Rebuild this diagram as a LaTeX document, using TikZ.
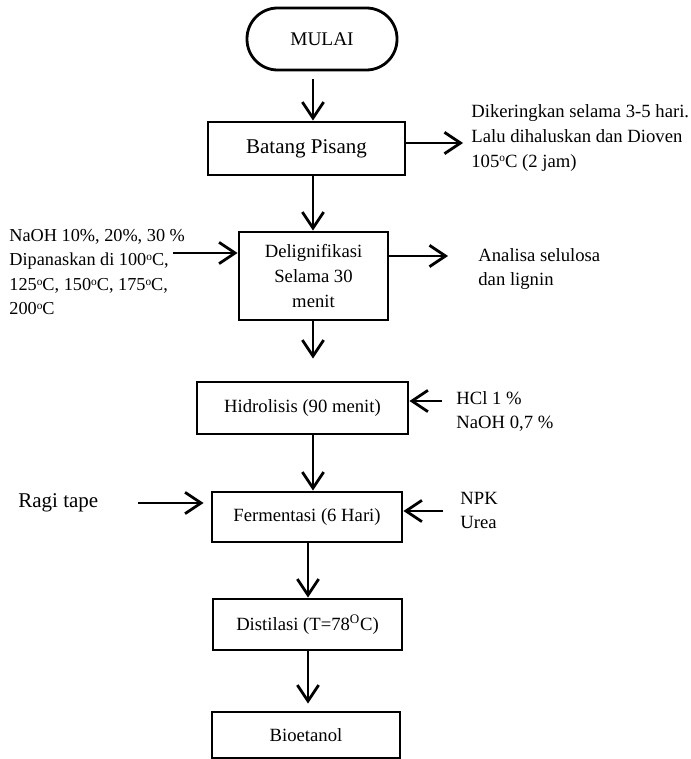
\documentclass[tikz,border=0pt]{standalone}
\usepackage{fontspec}
\setmainfont{Liberation Serif}
\usetikzlibrary{arrows.meta,calc}
\newcommand{\dc}{\raisebox{.6ex}{\fontsize{8.5}{9}\selectfont o}C}
\newcommand{\stepfont}{\fontsize{14}{18.4}\selectfont}
\newcommand{\bigfont}{\fontsize{15.75}{19}\selectfont}

\begin{document}
\begin{tikzpicture}[
      x=0.75pt, y=-0.75pt,
      line width=2.1pt,
      box/.style={draw, rectangle, align=center, inner sep=0pt, font=\stepfont},
      note/.style={align=left, anchor=west, inner sep=0pt, font=\stepfont},
      arr/.style={-{Straight Barb[length=12pt,width=16pt]}}
    ]
    \useasboundingbox (0,0) rectangle (690,759);

    % the down arrows run on these two lines
    \coordinate (upper) at (313,0);
    \coordinate (lower) at (308,0);

    % Main steps, top to bottom
    \node[box, rounded corners=23pt, minimum width=112.5pt, minimum height=46.5pt,
          font=\fontsize{14.5}{17}\selectfont] (mulai) at (322,39) {MULAI};
    \node[box, minimum width=147.75pt, minimum height=39.75pt, font=\bigfont] (batang) at (306.5,148.5) {Batang Pisang};
    \node[box, minimum width=111.75pt, minimum height=66pt] (delig) at (313.5,276) {Delignifikasi\\Selama 30\\menit};
    \node[box, minimum width=158.25pt, minimum height=39pt] (hidro) at (302.5,408) {Hidrolisis (90 menit)};
    \node[box, minimum width=142.5pt, minimum height=37.5pt] (ferm) at (307,517) {Fermentasi (6 Hari)};
    \node[box, minimum width=141.75pt, minimum height=38.25pt] (distil) at (307.5,624.5) {Distilasi (T=78\textsuperscript{O}C)};
    \node[box, minimum width=141pt, minimum height=34.5pt] (bio) at (306,735) {Bioetanol};

    % Side notes
    \node[note] (dry) at (470,138) {Dikeringkan selama 3-5 hari.\\Lalu dihaluskan dan Dioven\\105\dc{} (2 jam)};
    \node[note, font=\fontsize{13.7}{18.4}\selectfont] (naoh) at (8,272) {NaOH 10\%, 20\%, 30 \%\\Dipanaskan di 100\dc,\\125\dc, 150\dc, 175\dc,\\200\dc};
    \node[note] (analisa) at (477,269) {Analisa selulosa\\dan lignin};
    \node[note] (hcl) at (455,411.5) {HCl 1 \%\\NaOH 0,7 \%};
    \node[note, font=\bigfont] (ragi) at (17,503) {Ragi tape};
    \node[note] (npk) at (459,510.5) {NPK\\Urea};

    % free ends of the side arrows
    \coordinate (drytip) at (463,143);
    \coordinate (naohtail) at (173,253);
    \coordinate (anatip) at (448,256);
    \coordinate (hcltail) at (442,401);
    \coordinate (ragitail) at (138,503);
    \coordinate (npktail) at (443,511);

    % Down arrows
    \draw[arr] ($(upper |- mulai.south)+(0,8)$) -- (upper |- batang.north);
    \draw[arr] (upper |- batang.south) -- (upper |- delig.north);
    \draw[arr] (upper |- delig.south) -- ($(upper |- hidro.north)+(0,-22)$);
    \draw[arr] (upper |- hidro.south) -- (upper |- ferm.north);
    \draw[arr] (lower |- ferm.south) -- (lower |- distil.north);
    \draw[arr] (lower |- distil.south) -- ($(lower |- bio.north)+(0,-7)$);

    % Side arrows
    \draw[arr] (batang.east |- drytip) -- (drytip);
    \draw[arr] (naohtail) -- (naohtail -| delig.west);
    \draw[arr] (delig.east |- anatip) -- (anatip);
    \draw[arr] (hcltail) -- (hcltail -| hidro.east);
    \draw[arr] (ragitail) -- ($(ragitail -| ferm.west)+(-7,0)$);
    \draw[arr] (npktail) -- (npktail -| ferm.east);
\end{tikzpicture}
\end{document}
